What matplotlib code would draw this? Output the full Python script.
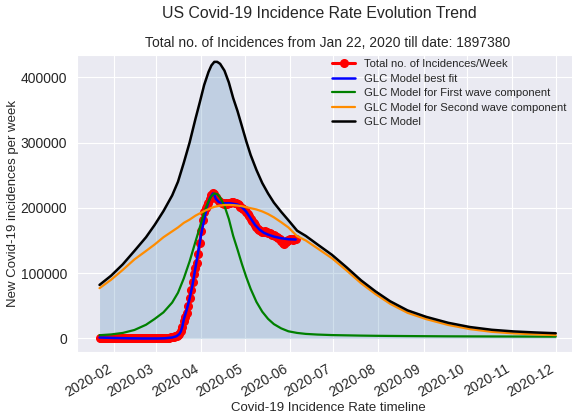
import numpy as np
import pandas as pd
import matplotlib
matplotlib.use("Agg")
import matplotlib.pyplot as plt
import matplotlib.dates as mdates
import seaborn as sns

# weekly new cases (7-day totals), one value per day from Jan 22 to Jun 5 2020
weekly_cases = [
    0, 0, 0, 0, 0, 0, 0, 0, 0, 0,
    0, 0, 0, 0, 0, 0, 0, 0, 0, 0,
    0, 0, 0, 0, 0, 0, 0, 0, 0, 0,
    0, 0, 0, 0, 0, 20, 30, 50, 70, 100,
    130, 170, 220, 300, 400, 500, 700, 900, 1200, 1600,
    2100, 2700, 3400, 4300, 5300, 7000, 11000, 18000, 26000, 33000,
    39000, 50000, 62000, 74000, 86000, 98000, 108000, 116000, 130000, 146000,
    165000, 182000, 193000, 199000, 203000, 208000, 214000, 219000, 222000, 221000,
    217000, 213000, 210000, 209000, 208000, 207000, 206000, 207000, 206000, 207000,
    208000, 209000, 209000, 208000, 207000, 206000, 204000, 202000, 200000, 198000,
    196000, 194000, 191000, 187000, 183000, 180000, 177000, 174000, 171000, 168000,
    166000, 164000, 163000, 163000, 164000, 163000, 162000, 161000, 160000, 159000,
    158000, 157000, 156000, 154000, 152000, 149000, 146000, 145000, 147000, 150000,
    151000, 152000, 152000, 151000, 152000, 153000,
]

# best fit curve (days since Jan 22)
fit_day = [0, 10, 20, 30, 40, 45, 50, 53, 55, 56, 57, 58, 60, 62, 64, 66, 68, 70,
           72, 74, 76, 78, 79, 80, 82, 85, 90, 95, 98, 101, 104, 107, 110, 113,
           116, 120, 125, 130, 135]
fit_cases = [1500, 800, 300, 0, 0, 300, 1500, 3500, 7000, 11000, 18000, 29000,
             44000, 61000, 82000, 108000, 134000, 160000, 182000, 202000, 215000,
             222000, 220000, 214000, 209000, 207000, 207000, 205000, 201000, 194000,
             184000, 174000, 167000, 162000, 159000, 156000, 153500, 152000, 151500]

# GLC model components (days since Jan 22)
model_day = [0, 8, 16, 24, 32, 38, 44, 50, 54, 58, 62, 66, 69, 72, 75, 77, 79, 81,
             83, 86, 89, 92, 95, 98, 101, 104, 108, 112, 116, 120, 125, 130, 136,
             142, 150, 160, 170, 180, 190, 200, 212, 225, 240, 255, 270, 285, 300, 314]
first_wave = [5000, 6200, 8500, 13000, 21000, 30000, 40000, 55000, 70000, 92000,
              118000, 148000, 170000, 193000, 210000, 218000, 222000, 221000, 216000,
              203000, 183000, 157000, 136000, 114000, 94000, 76000, 56000, 41000,
              30000, 22000, 15500, 11000, 8500, 7000, 6000, 5200, 4800, 4400, 4100,
              3900, 3700, 3500, 3300, 3200, 3100, 3000, 2900, 2800]
second_wave = [77000, 90000, 105000, 121000, 134000, 144000, 155000, 164000, 170000,
               177000, 182000, 188000, 191500, 195000, 198000, 200000, 201500, 202500,
               203500, 204300, 204500, 204200, 203500, 202500, 201000, 199500, 197500,
               194500, 190500, 185500, 178000, 170000, 156500, 150000, 138000, 122800,
               104200, 84600, 67900, 53100, 39300, 29500, 20700, 14300, 10200, 7800,
               6300, 5200]
glc_model = [82000, 96200, 113500, 134000, 155000, 174000, 195000, 219000, 240000,
             269000, 300000, 336000, 361500, 388000, 408000, 418000, 423500, 423500,
             420500, 410000, 392000, 368000, 348000, 325000, 302000, 281000, 258000,
             238000, 222000, 208000, 194000, 181000, 165000, 157000, 144000, 128000,
             109000, 89000, 72000, 57000, 43000, 33000, 24000, 17500, 13300, 10800,
             9200, 8000]

start = np.datetime64("2020-01-22")
dates = pd.date_range("2020-01-22", periods=len(weekly_cases), freq="D")
fit_dates = start + np.array(fit_day, dtype="timedelta64[D]")
model_dates = start + np.array(model_day, dtype="timedelta64[D]")

sns.set_style("darkgrid")
plt.rcParams["font.family"] = ["Liberation Sans", "DejaVu Sans"]

fig = plt.figure(figsize=(5.72, 4.17), dpi=100)
ax = fig.add_axes([77 / 572, 1 - 352 / 417, (579 - 77) / 572, (352 - 55) / 417])

ax.fill_between(model_dates, 0, glc_model, color="steelblue", alpha=0.25, lw=0)
ax.plot(dates, weekly_cases, "o-", color="red", ms=5.5, lw=2.2,
        label="Total no. of Incidences/Week")
ax.plot(fit_dates, fit_cases, color="blue", lw=1.8, label="GLC Model best fit")
ax.plot(model_dates, first_wave, color="green", lw=1.6,
        label="GLC Model for First wave component")
ax.plot(model_dates, second_wave, color="darkorange", lw=1.6,
        label="GLC Model for Second wave component")
ax.plot(model_dates, glc_model, color="black", lw=1.8, label="GLC Model")

ax.set_xlim(start - np.timedelta64(372, "h"), start + np.timedelta64(330, "D"))
ax.set_ylim(-20700, 434000)
ax.xaxis.set_major_locator(mdates.MonthLocator())
ax.xaxis.set_major_formatter(mdates.DateFormatter("%Y-%m"))
for lbl in ax.get_xticklabels():
    lbl.set_rotation(30)
    lbl.set_ha("right")
ax.tick_params(labelsize=10, colors="0.15")

ax.set_xlabel("Covid-19 Incidence Rate timeline", fontsize=9.5, color="0.15",
              labelpad=2)
ax.set_ylabel("New Covid-19 incidences per week", fontsize=9.5, color="0.15",
              labelpad=1)
ax.set_title("Total no. of Incidences from Jan 22, 2020 till date: 1897380",
             fontsize=10, color="0.15")
fig.suptitle("US Covid-19 Incidence Rate Evolution Trend", fontsize=11.4,
             x=319 / 572, y=0.985, color="0.15")
ax.legend(loc="upper right", fontsize=8.1, frameon=False, labelspacing=0.4,
          bbox_to_anchor=(0.995, 1.02))

fig.savefig("out.png", dpi=100)
